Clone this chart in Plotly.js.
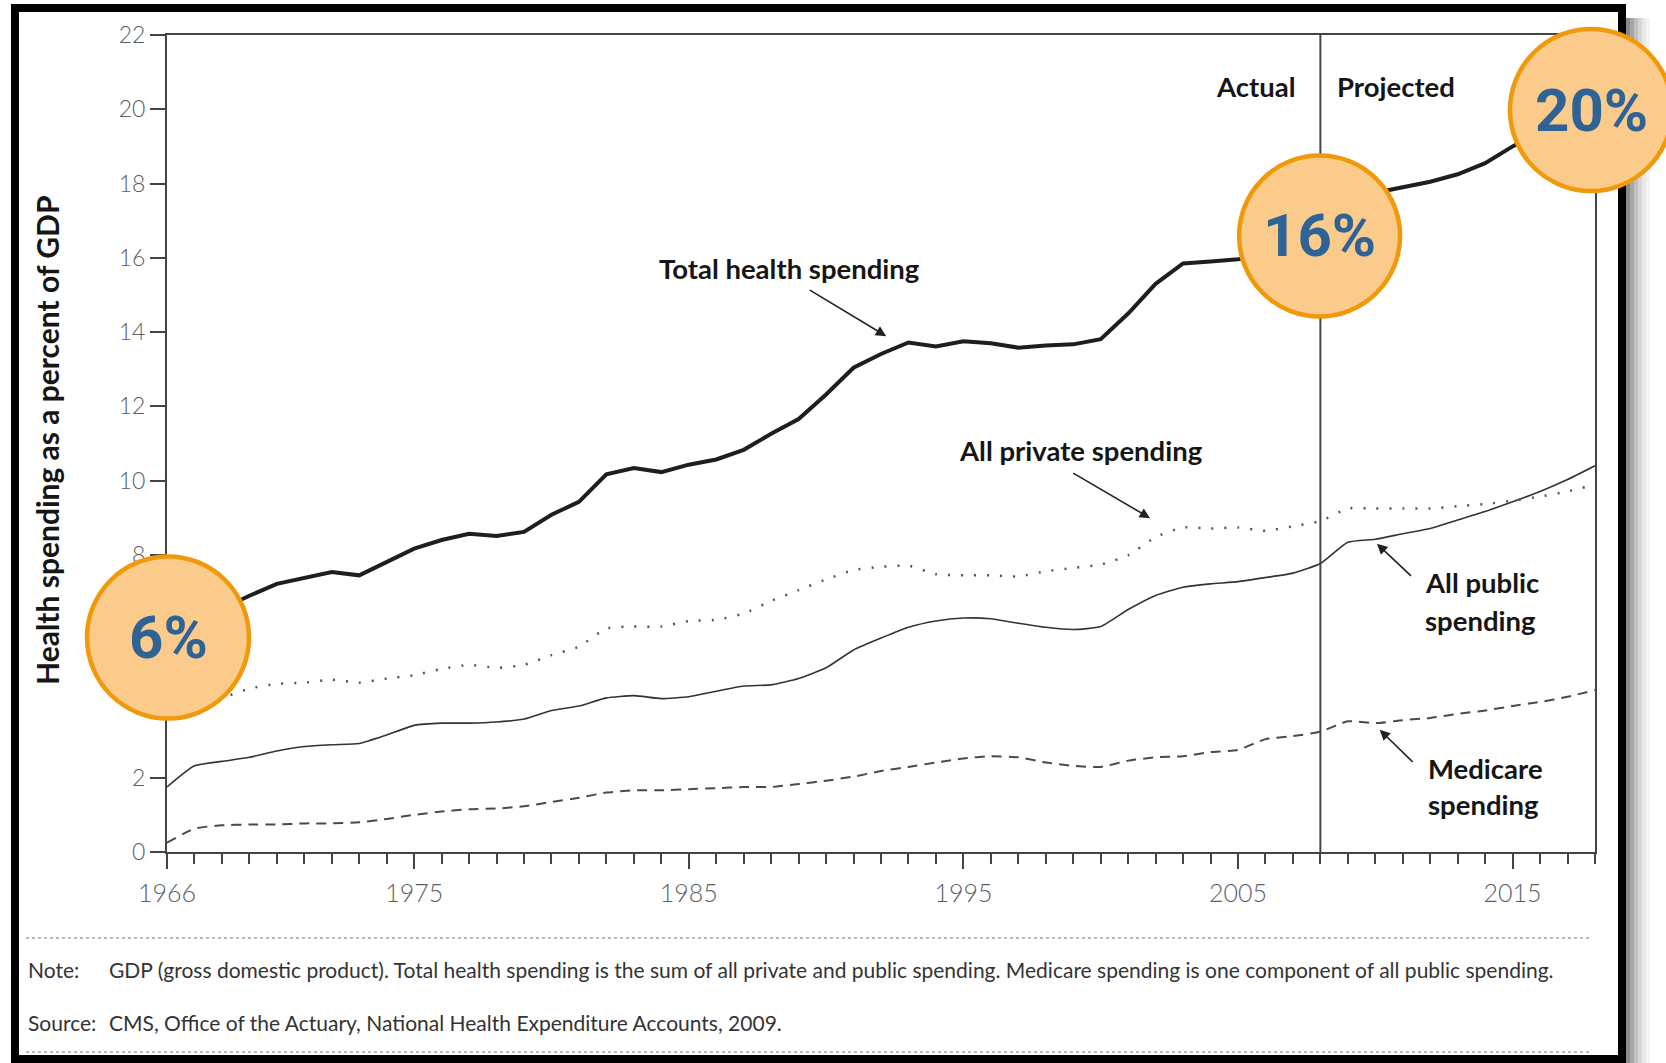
<!DOCTYPE html>
<html><head><meta charset="utf-8">
<script src="https://cdn.plot.ly/plotly-3.0.1.min.js"></script>
<style>html,body{margin:0;padding:0;background:#fff;overflow:hidden}#chart{width:1666px;height:1063px}</style>
</head><body><div id="chart"></div>
<script>
const years = [1966,1967,1968,1969,1970,1971,1972,1973,1974,1975,1976,1977,1978,1979,1980,1981,1982,1983,1984,1985,1986,1987,1988,1989,1990,1991,1992,1993,1994,1995,1996,1997,1998,1999,2000,2001,2002,2003,2004,2005,2006,2007,2008,2009,2010,2011,2012,2013,2014,2015,2016,2017,2018];
const totalSpending = [5.9,6.2,6.55,6.9,7.22,7.39,7.54,7.45,7.82,8.17,8.40,8.57,8.51,8.62,9.08,9.43,10.17,10.34,10.23,10.43,10.57,10.83,11.26,11.66,12.32,13.04,13.41,13.72,13.61,13.75,13.70,13.58,13.64,13.67,13.81,14.50,15.30,15.85,15.90,15.96,16.05,16.25,16.6,17.6,17.75,17.9,18.05,18.25,18.55,19.0,19.4,19.8,20.3];
const privateSpending = [4.10,4.00,4.15,4.40,4.53,4.56,4.64,4.56,4.67,4.76,4.93,5.04,4.96,5.04,5.30,5.53,6.02,6.07,6.07,6.22,6.25,6.42,6.76,7.05,7.34,7.59,7.68,7.71,7.48,7.45,7.45,7.42,7.56,7.65,7.74,7.99,8.48,8.74,8.71,8.74,8.65,8.77,8.91,9.25,9.25,9.25,9.25,9.31,9.37,9.46,9.57,9.71,9.89];
const publicSpending = [1.75,2.32,2.44,2.55,2.72,2.84,2.89,2.92,3.15,3.41,3.47,3.47,3.50,3.58,3.81,3.93,4.15,4.21,4.13,4.18,4.33,4.47,4.50,4.67,4.96,5.44,5.76,6.05,6.22,6.30,6.28,6.16,6.05,5.99,6.07,6.53,6.91,7.13,7.22,7.28,7.39,7.51,7.77,8.34,8.42,8.57,8.71,8.94,9.17,9.43,9.71,10.03,10.40];
const medicareSpending = [0.25,0.63,0.72,0.74,0.74,0.77,0.77,0.80,0.89,1.00,1.09,1.15,1.17,1.23,1.35,1.46,1.60,1.66,1.66,1.69,1.72,1.75,1.75,1.83,1.92,2.03,2.18,2.29,2.41,2.52,2.58,2.55,2.41,2.32,2.29,2.46,2.55,2.58,2.69,2.75,3.04,3.12,3.24,3.52,3.47,3.55,3.61,3.72,3.81,3.93,4.04,4.18,4.36];
const xTickVals = [1966,1975,1985,1995,2005,2015];
const yTickVals = [0,2,4,6,8,10,12,14,16,18,20,22];
// labels 4 and 6 sit under the 6% callout in the reference
const yTickText = ['0','2','','','8','10','12','14','16','18','20','22'];
const splitYear = 2008;
const calloutLabels = ['6%','16%','20%'];
const noteText = 'GDP (gross domestic product). Total health spending is the sum of all private and public spending. Medicare spending is one component of all public spending.';
const sourceText = 'CMS, Office of the Actuary, National Health Expenditure Accounts, 2009.';
const yTitle = 'Health spending as a percent of GDP';

const W=1666,H=1063,L=167,R=71,T=35,B=211;
const PW=W-L-R, PH=H-T-B;
const px = x => (x-L)/PW;
const py = y => (H-B-y)/PH;

const LBL = {family:'Lato, "Open Sans", sans-serif', size:27.5, color:'#161616', weight:700};
const traces = [
  {x:years,y:medicareSpending,mode:'lines',line:{color:'#4a4a4a',width:2,dash:'10px,7px',shape:'spline',smoothing:0.5},hoverinfo:'skip'},
  {x:years,y:publicSpending,mode:'lines',line:{color:'#333',width:1.6,shape:'spline',smoothing:0.5},hoverinfo:'skip'},
  {x:years,y:privateSpending,mode:'lines',line:{color:'#555',width:2.5,dash:'2px,11px',shape:'spline',smoothing:0.5},hoverinfo:'skip'},
  {x:years,y:totalSpending,mode:'lines',line:{color:'#1e1e1e',width:4},hoverinfo:'skip'}
];

function circle(cx,cy,r){
  return {type:'circle',xref:'paper',yref:'paper',x0:px(cx-r),x1:px(cx+r),y0:py(cy+r),y1:py(cy-r),
    fillcolor:'#FBCB8B',line:{color:'#F09A0B',width:4.5},layer:'above'};
}
const shapes = [
  {type:'line',xref:'x',yref:'y',x0:splitYear,x1:splitYear,y0:0,y1:22,line:{color:'#444',width:2}},
  {type:'rect',xref:'paper',yref:'paper',x0:px(15),x1:px(1622),y0:py(8),y1:py(1059),line:{color:'#000',width:8},fillcolor:'rgba(0,0,0,0)',layer:'above'},
  {type:'line',xref:'paper',yref:'paper',x0:px(26),x1:px(1592),y0:py(938),y1:py(938),line:{color:'#777',width:1,dash:'dot'}},
  {type:'line',xref:'paper',yref:'paper',x0:px(26),x1:px(1592),y0:py(1052),y1:py(1052),line:{color:'#777',width:1,dash:'dot'}}
];
const shadeCols=['#8a8a8a','#a6a6a6','#c0c0c0','#d6d6d6','#e8e8e8','#f4f4f4'];
shadeCols.forEach((c,i)=>shapes.push({type:'rect',xref:'paper',yref:'paper',x0:px(1626+i*4),x1:px(1630+i*4),y0:py(18),y1:py(1063),line:{width:0},fillcolor:c,layer:'above'}));
shapes.push(circle(168,637.5,81));
shapes.push(circle(1319.6,236,80.5));
shapes.push(circle(1591,110,81));

function arrow(hx,hy,tx,ty){
  return {x:hx,y:hy,xref:'x',yref:'y',ax:tx,ay:ty,axref:'x',ayref:'y',text:' ',showarrow:true,arrowhead:2,arrowsize:1.3,arrowwidth:1.6,arrowcolor:'#222',standoff:0,startstandoff:0};
}
const circFont = {family:'Roboto, "Open Sans", sans-serif',size:60,color:'#2F6396',weight:700};
function ptxt(x,y,text,font,xa,extra){
  return Object.assign({x:px(x),y:py(y),xref:'paper',yref:'paper',text:text,showarrow:false,font:font,xanchor:xa||'center',yanchor:'middle'},extra||{});
}
const footFont = {family:'Lato, sans-serif',size:21,color:'#333'};
const annotations = [
  {x:1988.65,y:15.72,xref:'x',yref:'y',text:'Total health spending',showarrow:false,font:LBL,xanchor:'center',yanchor:'middle'},
  arrow(1992.19,13.89,1989.30,15.18),
  {x:1999.27,y:10.82,xref:'x',yref:'y',text:'All private spending',showarrow:false,font:LBL,xanchor:'center',yanchor:'middle'},
  arrow(2001.80,8.99,1998.89,10.25),
  {x:2011.73,y:7.25,xref:'x',yref:'y',text:'All public',xanchor:'left',yanchor:'middle',showarrow:false,font:LBL},
  {x:2011.73,y:6.24,xref:'x',yref:'y',text:'spending',xanchor:'left',yanchor:'middle',showarrow:false,font:LBL},
  arrow(2010.06,8.30,2011.41,7.36),
  {x:2011.84,y:2.24,xref:'x',yref:'y',text:'Medicare',xanchor:'left',yanchor:'middle',showarrow:false,font:LBL},
  {x:2011.84,y:1.27,xref:'x',yref:'y',text:'spending',xanchor:'left',yanchor:'middle',showarrow:false,font:LBL},
  arrow(2010.16,3.29,2011.47,2.35),
  {x:2007.2,y:20.62,xref:'x',yref:'y',text:'Actual',xanchor:'right',yanchor:'middle',showarrow:false,font:LBL},
  {x:2008.55,y:20.62,xref:'x',yref:'y',text:'Projected',xanchor:'left',yanchor:'middle',showarrow:false,font:LBL},
  ptxt(168,637.5,calloutLabels[0],circFont),
  ptxt(1319.6,236,calloutLabels[1],circFont),
  ptxt(1591,110,calloutLabels[2],circFont),
  ptxt(47,441,yTitle,{family:'Lato, sans-serif',size:30,color:'#161616',weight:700},'center',{textangle:-90}),
  ptxt(26,969,'Note:',footFont,'left'),
  ptxt(107,969,noteText,footFont,'left'),
  ptxt(26,1022,'Source:',footFont,'left'),
  ptxt(107,1022,sourceText,footFont,'left')
];

const tickFont = {family:'Lato, sans-serif',size:25,color:'#5b5e63',weight:300};
const layout = {
  width:W,height:H,margin:{l:L,r:R,t:T,b:B},paper_bgcolor:'#fff',plot_bgcolor:'#fff',showlegend:false,
  xaxis:{range:[1966,2018],tickmode:'array',tickvals:xTickVals,ticks:'outside',ticklen:15,tickwidth:2,tickcolor:'#444',
    showline:true,linecolor:'#444',linewidth:2,mirror:true,showgrid:false,zeroline:false,tickfont:tickFont,ticklabelstandoff:3,
    minor:{tickmode:'linear',tick0:1966,dtick:1,ticks:'outside',ticklen:10,tickwidth:2,tickcolor:'#444',showgrid:false}},
  yaxis:{range:[0,22],tickmode:'array',tickvals:yTickVals,ticktext:yTickText,ticks:'outside',ticklen:15,tickwidth:2,tickcolor:'#444',
    showline:true,linecolor:'#444',linewidth:2,mirror:true,showgrid:false,zeroline:false,tickfont:Object.assign({},tickFont,{size:23})},
  shapes:shapes,annotations:annotations
};
Plotly.newPlot('chart',traces,layout,{staticPlot:true,displayModeBar:false});
</script></body></html>
